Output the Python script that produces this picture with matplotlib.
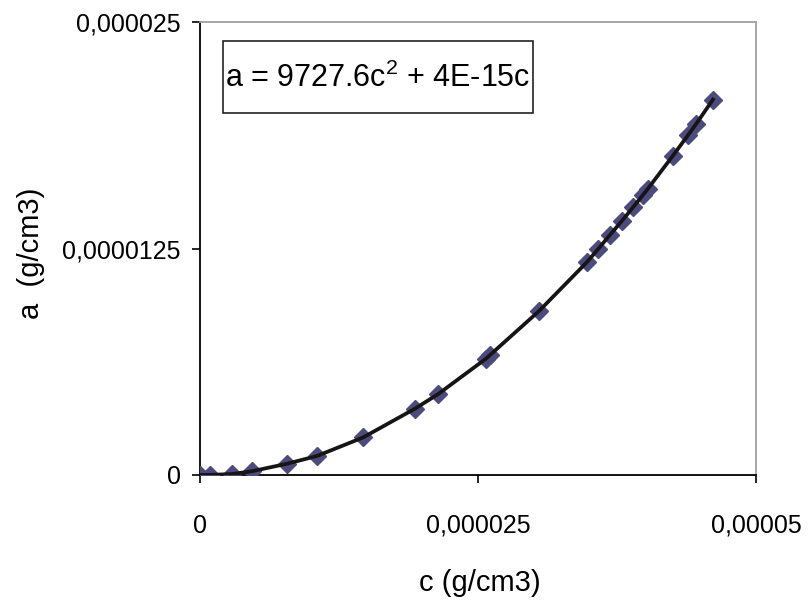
import matplotlib
matplotlib.use("Agg")
import matplotlib.pyplot as plt
from matplotlib.patches import Rectangle

plt.rcParams["font.family"] = ["Liberation Sans", "DejaVu Sans"]
plt.rcParams["mathtext.fontset"] = "custom"
plt.rcParams["mathtext.rm"] = "Liberation Sans"
plt.rcParams["mathtext.it"] = "Liberation Sans:italic"

# data (g/cm3)
c_vals = [0.0, 0.90e-6, 2.88e-6, 4.68e-6, 7.82e-6, 10.52e-6, 14.66e-6, 19.33e-6,
          21.40e-6, 25.72e-6, 26.08e-6, 30.49e-6, 34.80e-6, 35.79e-6, 36.87e-6,
          37.95e-6, 38.94e-6, 39.84e-6, 40.29e-6, 42.54e-6, 43.88e-6, 44.60e-6,
          46.13e-6]
a_vals = [0.0, 0.01e-6, 0.05e-6, 0.21e-6, 0.62e-6, 1.05e-6, 2.07e-6, 3.66e-6,
          4.46e-6, 6.42e-6, 6.62e-6, 9.05e-6, 11.75e-6, 12.46e-6, 13.25e-6,
          14.03e-6, 14.77e-6, 15.46e-6, 15.81e-6, 17.63e-6, 18.75e-6, 19.36e-6,
          20.72e-6]

x_ticks = [0.0, 0.000025, 0.00005]
x_labels = ["0", "0,000025", "0,00005"]
y_ticks = [0.0, 0.0000125, 0.000025]
y_labels = ["0", "0,0000125", "0,000025"]

equation = "a = 9727.6c$^{2}$ + 4E-15c"

marker_color = "#4b4b7e"

fig = plt.figure(figsize=(8.1, 6.0), dpi=100)
ax = fig.add_axes([200 / 810, 125 / 600, 556 / 810, 453 / 600])

ax.plot(c_vals, a_vals, ls="none", marker="D", ms=9, color=marker_color,
        mec=marker_color, zorder=3)
ax.plot(c_vals, a_vals, color="#161414", lw=2.7, zorder=4)

ax.set_xlim(0, 0.00005)
ax.set_ylim(0, 0.000025)
ax.set_xticks(x_ticks, x_labels)
ax.set_yticks(y_ticks, y_labels)
ax.tick_params(axis="x", direction="out", length=6, width=1.2, pad=22,
               labelsize=18, colors="black")
ax.tick_params(axis="y", direction="out", length=6, width=1.2, pad=8,
               labelsize=18, colors="black")

for side in ["left", "bottom"]:
    ax.spines[side].set_color("black")
    ax.spines[side].set_linewidth(1.3)
for side in ["top", "right"]:
    ax.spines[side].set_color("#a0a0a0")
    ax.spines[side].set_linewidth(1.3)

ax.add_patch(Rectangle((0.041, 0.799), 0.558, 0.159, transform=ax.transAxes,
                       facecolor="white", edgecolor="#222222", lw=1.2, zorder=5))
ax.text(0.32, 0.876, equation, transform=ax.transAxes, ha="center", va="center",
        fontsize=22, zorder=6)

fig.text(480 / 810, 1 - 583 / 600, "c (g/cm3)", ha="center", va="center",
         fontsize=21)
fig.text(31 / 810, 1 - 253 / 600, "a  (g/cm3)", ha="center", va="center",
         rotation=90, fontsize=21)

fig.savefig("out.png", dpi=100)
